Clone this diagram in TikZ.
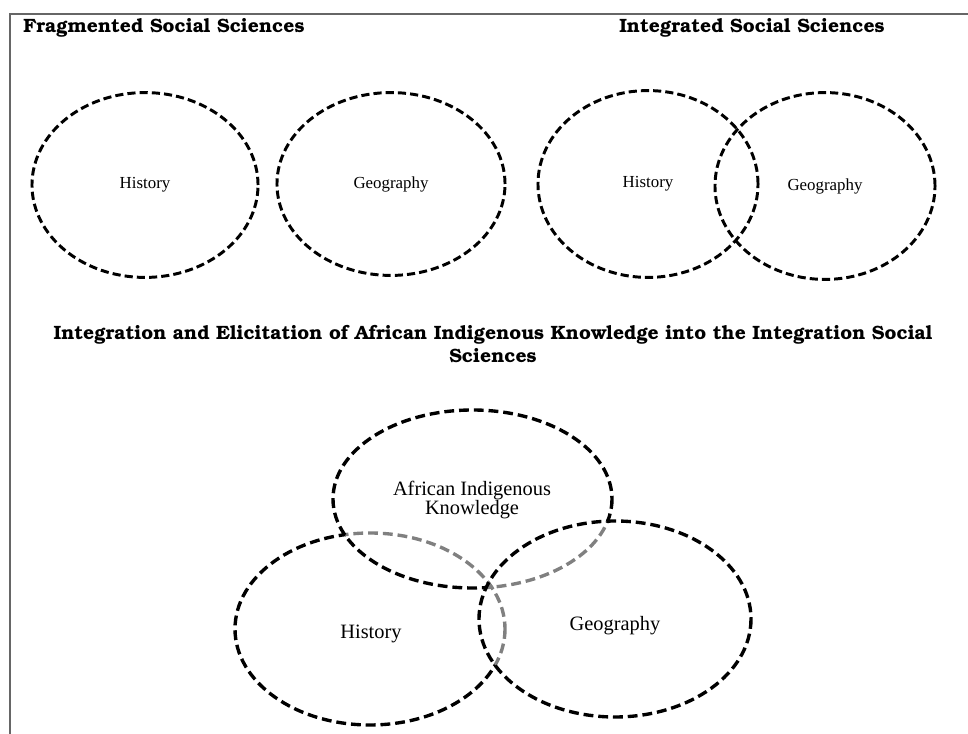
\documentclass[tikz,border=0pt]{standalone}
\usepackage{fontspec}
\setmainfont{Liberation Serif}
\usetikzlibrary{shapes.geometric, positioning}
\newcommand{\titlefont}{\fontencoding{OT1}\fontfamily{pbk}\fontseries{b}\selectfont}

\tikzset{
  subject/.style={ellipse, draw, line width=2.1pt, dash pattern=on 5.8pt off 2.9pt,
    inner sep=0pt, font=\fontsize{12}{14}\selectfont},
  venn/.style={line width=2.4pt, dash pattern=on 7pt off 3.5pt},
  vennlabel/.style={inner sep=0pt, align=center, font=\fontsize{14.5}{13}\selectfont},
  heading/.style={inner sep=0pt, font=\titlefont\fontsize{13.7}{17}\selectfont},
}

\begin{document}
\begin{tikzpicture}[x=0.025cm, y=-0.025cm]

        \useasboundingbox (0,0) rectangle (968,734);

        % Frame
        \draw[black!60, line width=0.9pt] (10,734) -- (10,14) -- (968,14);

        % Headings
        \node[heading, anchor=west] (fragtitle) at (23,28) {Fragmented Social Sciences};
        \node[heading] (integtitle) at (752,28) {Integrated Social Sciences};
        \node[heading, align=center] (aiktitle) at (493,344)
          {Integration and Elicitation of African Indigenous Knowledge into the Integration Social\\Sciences};

        % Fragmented: two separate subjects
        \node[subject, minimum width=5.65cm, minimum height=4.62cm] (hist1) at (145,185) {History};
        \node[subject, minimum width=5.7cm, minimum height=4.57cm] (geo1) at (391,184) {Geography};

        % Integrated: two overlapping subjects
        \node[subject, minimum width=5.5cm, minimum height=4.67cm] (hist2) at (648,184) {History};
        \node[subject, minimum width=5.5cm, minimum height=4.67cm] (geo2) at (825,186) {Geography};

        % Centres of the three circles below
        \coordinate (aikc) at (472.5,499);
        \coordinate (histc) at (370,629);
        \coordinate (geoc) at (615,619);

        % Grey (hidden) parts
        \begin{scope}
          \clip (aikc) ellipse [x radius=139.5, y radius=89];
          \draw[venn, black!50] (histc) ellipse [x radius=135, y radius=96];
        \end{scope}
        \begin{scope}
          \clip (geoc) ellipse [x radius=136, y radius=98];
          \draw[venn, black!50] (histc) ellipse [x radius=135, y radius=96];
          \draw[venn, black!50] (aikc) ellipse [x radius=139.5, y radius=89];
        \end{scope}

        % Black (visible) parts
        \begin{scope}[even odd rule]
          \clip (-50,-50) rectangle (1050,800) (geoc) ellipse [x radius=136, y radius=98];
          \draw[venn] (aikc) ellipse [x radius=139.5, y radius=89];
          \clip (-50,-50) rectangle (1050,800) (aikc) ellipse [x radius=139.5, y radius=89];
          \draw[venn] (histc) ellipse [x radius=135, y radius=96];
        \end{scope}
        \draw[venn] (geoc) ellipse [x radius=136, y radius=98];

        % Labels
        \node[vennlabel] (aik) at (472,500) {African Indigenous\\Knowledge};
        \node[vennlabel] (hist3) at (371,634) {History};
        \node[vennlabel] (geo3) at (615,626) {Geography};

\end{tikzpicture}
\end{document}
